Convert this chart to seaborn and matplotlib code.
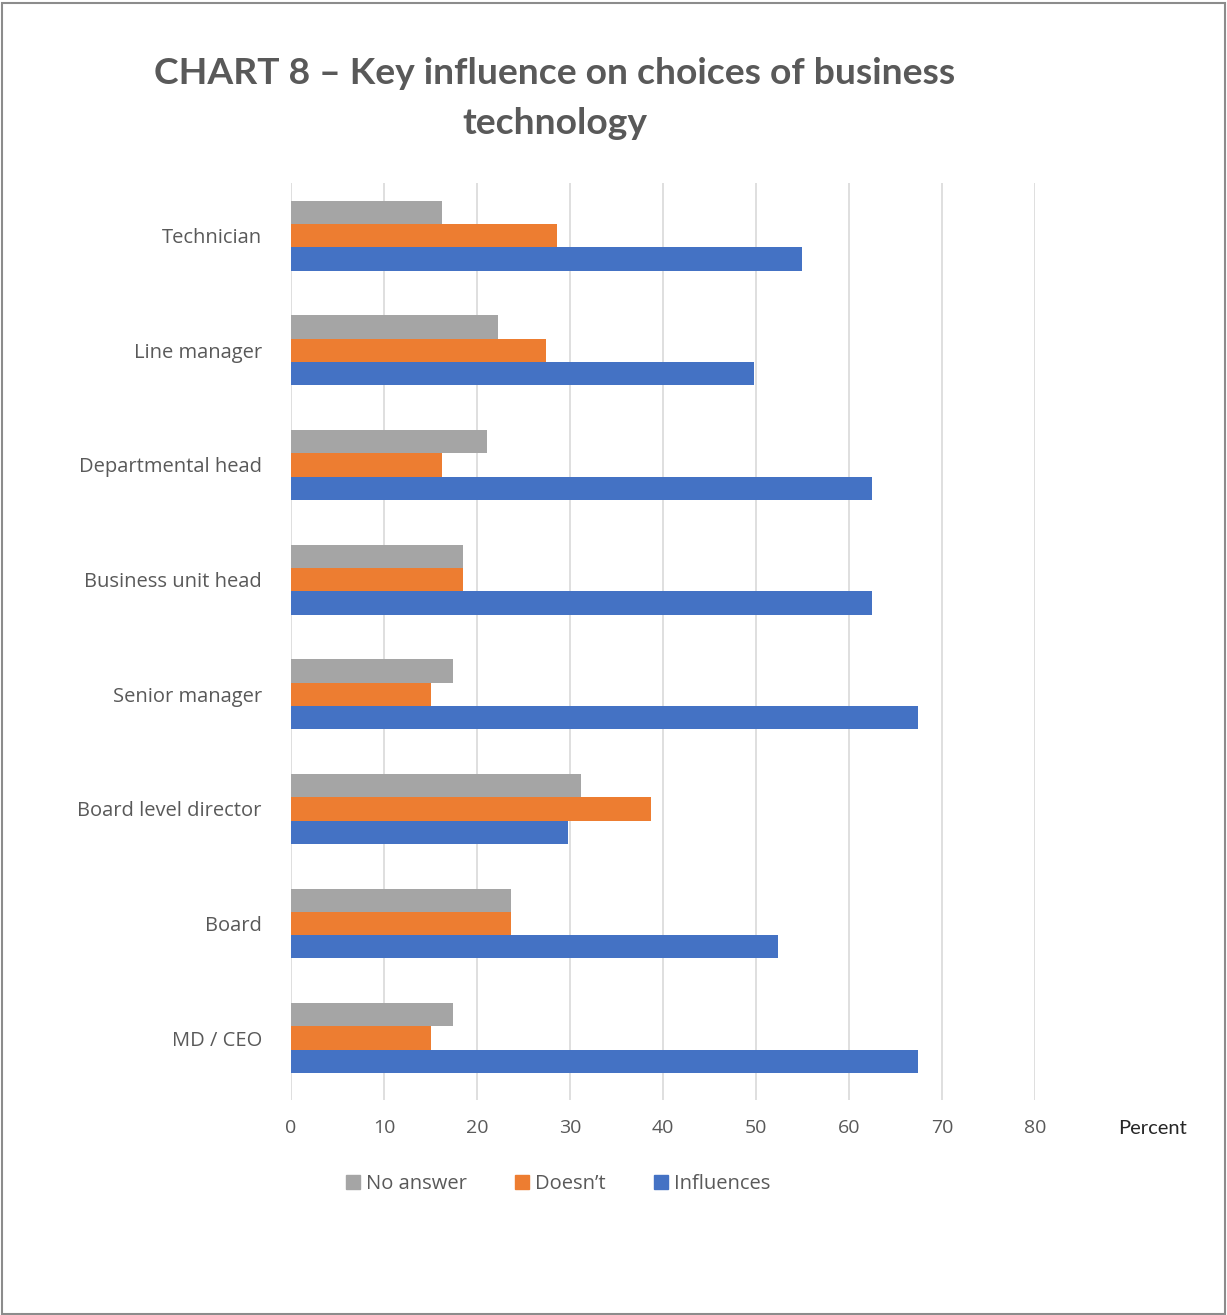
import matplotlib
matplotlib.use("Agg")
import matplotlib.pyplot as plt
from matplotlib.patches import Rectangle
import seaborn as sns
import pandas as pd

# Survey roles, top to bottom
roles = ["Technician", "Line manager", "Departmental head", "Business unit head",
         "Senior manager", "Board level director", "Board", "MD / CEO"]
responses = ["No answer", "Doesn\u2019t", "Influences"]

# Percent of respondents per role
no_answer = [16.2, 22.3, 21.1, 18.5, 17.4, 31.2, 23.7, 17.4]
doesnt = [28.6, 27.4, 16.2, 18.5, 15.0, 38.7, 23.7, 15.0]
influences = [54.9, 49.8, 62.5, 62.5, 67.4, 29.8, 52.4, 67.4]

colors = ["#a5a5a5", "#ed7d31", "#4472c4"]
x_ticks = [0, 10, 20, 30, 40, 50, 60, 70, 80]

rows = []
for series_name, values in zip(responses, [no_answer, doesnt, influences]):
    for role, v in zip(roles, values):
        rows.append({"role": role, "response": series_name, "value": v})
df = pd.DataFrame(rows)

sns.set_theme(style="white")
plt.rcParams["font.family"] = ["Open Sans", "DejaVu Sans"]

fig = plt.figure(figsize=(12.27, 13.15), dpi=100)
ax = fig.add_axes([291 / 1227, 1 - 1100 / 1315, (1035 - 291) / 1227, (1100 - 183) / 1315])

sns.barplot(data=df, x="value", y="role", hue="response", order=roles,
            hue_order=responses, palette=colors, orient="h", width=0.61,
            saturation=1, errorbar=None, ax=ax, legend=True, linewidth=0)

ax.set_xlim(0, 80)
ax.set_ylim(len(roles) - 0.46, -0.46)
ax.set_xticks(x_ticks)
ax.set_xticklabels([str(t) for t in x_ticks])
ax.set_xlabel("")
ax.set_ylabel("")
ax.xaxis.grid(True, color="#d9d9d9", linewidth=1.2)
ax.yaxis.grid(False)
ax.set_axisbelow(True)
for s in ax.spines.values():
    s.set_visible(False)
ax.tick_params(axis="x", colors="#595959", labelsize=14, length=0, pad=14)
ax.tick_params(axis="y", colors="#595959", labelsize=14.5, length=0, pad=21)
for lbl in ax.get_xticklabels() + ax.get_yticklabels():
    lbl.set_color("#595959")

ax.get_legend().remove()
handles = [Rectangle((0, 0), 1, 1, color=c) for c in colors]
fig.legend(handles, responses, loc="center", bbox_to_anchor=(558 / 1227, 1 - 1184 / 1315),
           ncol=3, frameon=False, handlelength=0.7, handleheight=0.7, handletextpad=0.3,
           columnspacing=2.4, prop={"size": 14.5}, labelcolor="#595959")

fig.text(1152 / 1227, 1 - 1128 / 1315, "Percent", ha="center", va="center",
         fontsize=14.5, color="#262626", family=["Lato", "DejaVu Sans"])

fig.text(555 / 1227, 1 - 73 / 1315, "CHART 8 \u2013 Key influence on choices of business",
         ha="center", va="center", fontsize=26.8, fontweight="bold", color="#595959",
         family=["Lato", "DejaVu Sans"])
fig.text(555 / 1227, 1 - 123 / 1315, "technology",
         ha="center", va="center", fontsize=26.8, fontweight="bold", color="#595959",
         family=["Lato", "DejaVu Sans"])

# thin frame around the whole figure
fig.patches.append(Rectangle((0.002, 0.001), 0.996, 0.997, transform=fig.transFigure,
                             fill=False, edgecolor="#8c8c8c", linewidth=1.5))

fig.savefig("out.png", dpi=100)
